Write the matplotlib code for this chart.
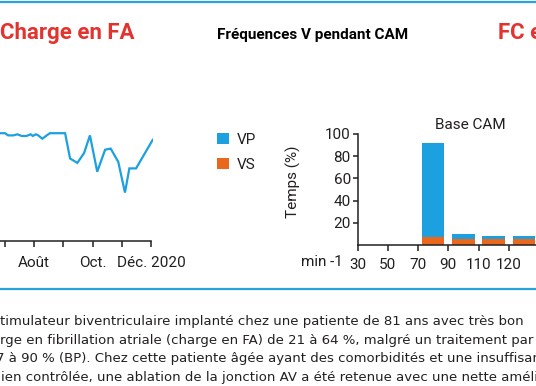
import numpy as np
import matplotlib
matplotlib.use("Agg")
import matplotlib.pyplot as plt
from matplotlib.lines import Line2D
import matplotlib.transforms as mtransforms

plt.rcParams['font.family'] = ['Roboto', 'DejaVu Sans']

# left panel: monthly trace (months as decimal numbers, 7 = juillet)
months = [6.83, 7.0, 7.11, 7.29, 7.42, 7.57, 7.74, 7.88, 7.95, 8.06, 8.14, 8.28, 8.43, 8.54,
          9.06, 9.23, 9.48, 9.71, 9.91, 10.16, 10.43, 10.62, 10.88, 11.11, 11.26, 11.49, 12.06]
trace = [98, 98, 96, 96, 97, 95.5, 95.5, 97, 95.5, 97, 96, 93, 96, 98,
         98, 75, 71, 80, 96, 63, 83, 84, 72, 44, 66, 66, 92]
month_ticks = [7, 8, 9, 10, 11, 12]
month_labels = ['', 'Août', '', 'Oct.', '', 'Déc. 2020']

# right panel: histogram of ventricular rates during AF
bin_labels = ['30', '50', '70', '90', '110', '120']
bin_pos = [0.5, 1.5, 2.5, 3.5, 4.5, 5.5]
vs = [0, 0, 7, 5.5, 5.5, 5.5]
vp = [0, 0, 85, 4.5, 2.5, 2.5]

blue = '#1ca0e0'
orange = '#ea671c'
red = '#e2332f'
dark = '#231f20'

fig = plt.figure(figsize=(5.36, 3.86), dpi=100)
W, H = 536.0, 386.0

def fx(px):
    return px / W

def fy(py):
    return 1 - py / H

# blue rules
fig.add_artist(Line2D([0, 1], [fy(1.5), fy(1.5)], color='#29a3dd', lw=1.6, transform=fig.transFigure))
fig.add_artist(Line2D([0, 1], [fy(289), fy(289)], color='#29a3dd', lw=1.6, transform=fig.transFigure))

# titles
fig.text(0, fy(39), 'Charge en FA', color=red, fontsize=16, fontweight='bold', va='baseline', ha='left')
fig.text(fx(312.5), fy(39), 'Fréquences V pendant CAM', color='black', fontsize=11, fontweight='bold',
         va='baseline', ha='center')
fig.text(fx(498), fy(39), 'FC en FA', color=red, fontsize=16, fontweight='bold', va='baseline', ha='left')

# left line chart
ax1 = fig.add_axes([0, fy(241), fx(153), (241 - 131) / H])
ax1.plot(months, trace, color=blue, lw=1.6, solid_joinstyle='miter')
ax1.set_xlim(6.83, 12.07)
ax1.set_ylim(0, 100)
for s in ['top', 'right', 'left']:
    ax1.spines[s].set_visible(False)
ax1.spines['bottom'].set_bounds(6.83, 12)
ax1.spines['bottom'].set_linewidth(1.1)
ax1.spines['bottom'].set_color(dark)
ax1.set_yticks([])
ax1.set_xticks(month_ticks)
ax1.set_xticklabels(month_labels)
ax1.tick_params(axis='x', direction='out', length=4, width=1.1, color=dark, labelsize=11,
                labelcolor=dark, pad=7)

# right bar chart
ax2 = fig.add_axes([fx(357.7), fy(245.3), 7 * 30.2 / W, (245.3 - 133.7) / H])
b_vs = ax2.bar(bin_pos, vs, width=0.74, color=orange, label='VS')
b_vp = ax2.bar(bin_pos, vp, width=0.74, bottom=vs, color=blue, label='VP')
ax2.set_xlim(0, 7)
ax2.set_ylim(0, 100)
for s in ['top', 'right']:
    ax2.spines[s].set_visible(False)
for s in ['left', 'bottom']:
    ax2.spines[s].set_linewidth(1.1)
    ax2.spines[s].set_color(dark)
ax2.set_xticks(range(len(bin_labels)))
ax2.set_xticklabels(bin_labels)
ax2.set_yticks([20, 40, 60, 80, 100])
ax2.tick_params(axis='x', direction='out', length=4, width=1.1, color=dark, labelsize=11,
                labelcolor=dark, pad=5)
ax2.tick_params(axis='y', direction='out', length=3.5, width=1.1, color=dark, labelsize=11,
                labelcolor=dark, pad=1.5)
ax2.set_ylabel('Temps (%)', fontsize=11, color=dark)
ax2.yaxis.set_label_coords(-0.27, 0.57)
ax2.text(0.532, 1.078, 'Base CAM', transform=ax2.transAxes, ha='center', va='center',
         fontsize=11, color=dark)
trans = mtransforms.blended_transform_factory(ax2.transData, ax2.transAxes)
ax2.text(-1.2, -0.154, 'min -1', transform=trans, ha='center', va='center', fontsize=11,
         color=dark, clip_on=False)

fig.legend([b_vp, b_vs], ['VP', 'VS'], loc='upper left', bbox_to_anchor=(fx(217), fy(133)),
           frameon=False, borderpad=0, borderaxespad=0, handlelength=0.78, handleheight=0.78,
           handletextpad=0.5, labelspacing=0.7, fontsize=11, labelcolor=dark)

# caption lines (cut at the left edge in the reference)
caption = [
    (0, 'timulateur biventriculaire implanté chez une patiente de 81 ans avec très bon'),
    (0, 'rge en fibrillation atriale (charge en FA) de 21 à 64 %, malgré un traitement par'),
    (-4, '7 à 90 % (BP). Chez cette patiente âgée ayant des comorbidités et une insuffisance'),
    (1, 'ien contrôlée, une ablation de la jonction AV a été retenue avec une nette amélioration'),
]
for i, (x0, line) in enumerate(caption):
    fig.text(fx(x0), fy(325 + 18.7 * i), line, fontsize=9.5, color=dark, va='baseline', ha='left',
             family=['DejaVu Sans'])

fig.savefig('out.png', dpi=100)
